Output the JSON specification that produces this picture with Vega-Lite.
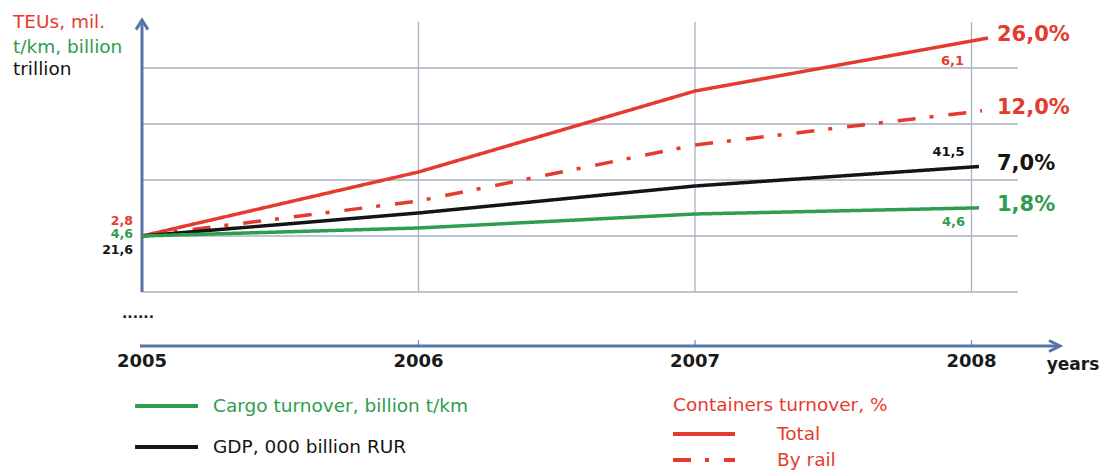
{
  "$schema": "https://vega.github.io/schema/vega-lite/v6.json",
  "width": 1104,
  "height": 471,
  "autosize": {"type": "none"},
  "padding": 0,
  "background": "#ffffff",
  "config": {
    "view": {"stroke": null},
    "axis": {"disable": true},
    "legend": {"disable": true},
    "text": {"font": "DejaVu Sans"}
  },
  "datasets": {
    "series": [
      {"series": "Total", "year": 2005, "level": 0, "value": "2,8"},
      {"series": "Total", "year": 2006, "level": 1.143},
      {"series": "Total", "year": 2007, "level": 2.589},
      {"series": "Total", "year": 2008, "level": 3.482, "value": "6,1"},
      {"series": "Total", "year": 2008.06, "level": 3.536, "rate": "26,0%"},
      {"series": "By rail", "year": 2005, "level": 0},
      {"series": "By rail", "year": 2006, "level": 0.625},
      {"series": "By rail", "year": 2007, "level": 1.625},
      {"series": "By rail", "year": 2008, "level": 2.214},
      {"series": "By rail", "year": 2008.038, "level": 2.236, "rate": "12,0%"},
      {"series": "GDP", "year": 2005, "level": 0, "value": "21,6"},
      {"series": "GDP", "year": 2006, "level": 0.411},
      {"series": "GDP", "year": 2007, "level": 0.893},
      {"series": "GDP", "year": 2008, "level": 1.232, "value": "41,5"},
      {"series": "GDP", "year": 2008.027, "level": 1.241, "rate": "7,0%"},
      {"series": "Cargo", "year": 2005, "level": 0, "value": "4,6"},
      {"series": "Cargo", "year": 2006, "level": 0.143},
      {"series": "Cargo", "year": 2007, "level": 0.393},
      {"series": "Cargo", "year": 2008, "level": 0.5, "value": "4,6"},
      {"series": "Cargo", "year": 2008.027, "level": 0.503, "rate": "1,8%"}
    ],
    "years": [{"year": 2005}, {"year": 2006}, {"year": 2007}, {"year": 2008}],
    "levels": [{"level": 3}, {"level": 2}, {"level": 1}, {"level": 0}, {"level": -1}]
  },
  "layer": [
    {
      "data": {"name": "levels"},
      "mark": {"type": "rule", "color": "#a9b2c3", "strokeWidth": 1.3},
      "encoding": {
        "y": {"field": "level", "type": "quantitative", "scale": {"domain": [-4.19643, 4.21429], "nice": false, "zero": false}},
        "x": {"datum": 2005, "type": "quantitative", "scale": {"domain": [2004.48644, 2008.4792], "nice": false, "zero": false}},
        "x2": {"datum": 2008.168}
      }
    },
    {
      "data": {"name": "years"},
      "transform": [{"filter": "datum.year > 2005"}],
      "mark": {"type": "rule", "color": "#a9b2c3", "strokeWidth": 1.3},
      "encoding": {
        "x": {"field": "year", "type": "quantitative"},
        "y": {"datum": -1, "type": "quantitative"},
        "y2": {"datum": 3.821}
      }
    },
    {
      "data": {"name": "years"},
      "transform": [{"filter": "datum.year > 2005"}],
      "mark": {"type": "rule", "color": "#8092b5", "strokeWidth": 1.3},
      "encoding": {
        "x": {"field": "year", "type": "quantitative"},
        "y": {"datum": -1.857, "type": "quantitative"},
        "y2": {"datum": -1.964}
      }
    },
    {
      "data": {"values": [{}]},
      "layer": [
        {
          "mark": {"type": "rule", "color": "#5674a8", "strokeWidth": 3},
          "encoding": {
            "x": {"datum": 2005, "type": "quantitative"},
            "y": {"datum": -1, "type": "quantitative"},
            "y2": {"datum": 3.84}
          }
        },
        {
          "mark": {"type": "rule", "color": "#5674a8", "strokeWidth": 3},
          "encoding": {
            "y": {"datum": -1.964, "type": "quantitative"},
            "x": {"datum": 2004.9928, "type": "quantitative"},
            "x2": {"datum": 2008.315}
          }
        },
        {
          "mark": {"type": "point", "shape": "M -1 1.6 L 0 0 L 1 1.6", "size": 144, "filled": false, "color": "#5674a8", "strokeWidth": 3, "opacity": 1},
          "encoding": {
            "x": {"datum": 2005, "type": "quantitative"},
            "y": {"datum": 3.857, "type": "quantitative"}
          }
        },
        {
          "mark": {"type": "point", "shape": "M -2 -1 L 0 0 L -2 1", "size": 121, "filled": false, "color": "#5674a8", "strokeWidth": 3, "opacity": 1},
          "encoding": {
            "x": {"datum": 2008.3201, "type": "quantitative"},
            "y": {"datum": -1.964, "type": "quantitative"}
          }
        }
      ]
    },
    {
      "data": {"name": "series"},
      "mark": {"type": "line", "strokeWidth": 3.5, "strokeCap": "butt"},
      "encoding": {
        "x": {"field": "year", "type": "quantitative", "scale": {"domain": [2004.48644, 2008.4792], "nice": false, "zero": false}},
        "y": {"field": "level", "type": "quantitative", "scale": {"domain": [-4.19643, 4.21429], "nice": false, "zero": false}},
        "color": {"field": "series", "type": "nominal", "scale": {"domain": ["Total", "By rail", "GDP", "Cargo"], "range": ["#e53b2f", "#e53b2f", "#151515", "#2e9d4f"]}},
        "strokeDash": {"field": "series", "type": "nominal", "scale": {"domain": ["Total", "By rail", "GDP", "Cargo"], "range": [[1, 0], [18, 14, 4, 15], [1, 0], [1, 0]]}}
      }
    },
    {
      "data": {"name": "series"},
      "transform": [{"filter": "isValid(datum.rate)"}],
      "mark": {"type": "text", "fontWeight": "bold", "fontSize": 21, "align": "left", "baseline": "middle", "dy": -3},
      "encoding": {
        "x": {"datum": 2008.0922, "type": "quantitative"},
        "y": {"field": "level", "type": "quantitative"},
        "text": {"field": "rate"},
        "color": {"field": "series", "type": "nominal"}
      }
    },
    {
      "data": {"name": "series"},
      "transform": [{"filter": "datum.year == 2005 && datum.series == 'Total'"}],
      "mark": {"type": "text", "fontWeight": "bold", "fontSize": 12.5, "align": "right", "baseline": "middle", "dx": -9, "dy": -15},
      "encoding": {
        "x": {"field": "year", "type": "quantitative"},
        "y": {"field": "level", "type": "quantitative"},
        "text": {"field": "value"},
        "color": {"field": "series", "type": "nominal"}
      }
    },
    {
      "data": {"name": "series"},
      "transform": [{"filter": "datum.year == 2005 && datum.series == 'Cargo'"}],
      "mark": {"type": "text", "fontWeight": "bold", "fontSize": 12.5, "align": "right", "baseline": "middle", "dx": -9, "dy": -2},
      "encoding": {
        "x": {"field": "year", "type": "quantitative"},
        "y": {"field": "level", "type": "quantitative"},
        "text": {"field": "value"},
        "color": {"field": "series", "type": "nominal"}
      }
    },
    {
      "data": {"name": "series"},
      "transform": [{"filter": "datum.year == 2005 && datum.series == 'GDP'"}],
      "mark": {"type": "text", "fontWeight": "bold", "fontSize": 12.5, "align": "right", "baseline": "middle", "dx": -9, "dy": 14},
      "encoding": {
        "x": {"field": "year", "type": "quantitative"},
        "y": {"field": "level", "type": "quantitative"},
        "text": {"field": "value"},
        "color": {"field": "series", "type": "nominal"}
      }
    },
    {
      "data": {"name": "series"},
      "transform": [{"filter": "datum.year == 2008 && datum.series == 'Total'"}],
      "mark": {"type": "text", "fontWeight": "bold", "fontSize": 13, "align": "center", "baseline": "middle", "dx": -19, "dy": 20},
      "encoding": {
        "x": {"field": "year", "type": "quantitative"},
        "y": {"field": "level", "type": "quantitative"},
        "text": {"field": "value"},
        "color": {"field": "series", "type": "nominal"}
      }
    },
    {
      "data": {"name": "series"},
      "transform": [{"filter": "datum.year == 2008 && datum.series == 'GDP'"}],
      "mark": {"type": "text", "fontWeight": "bold", "fontSize": 13, "align": "center", "baseline": "middle", "dx": -23, "dy": -15},
      "encoding": {
        "x": {"field": "year", "type": "quantitative"},
        "y": {"field": "level", "type": "quantitative"},
        "text": {"field": "value"},
        "color": {"field": "series", "type": "nominal"}
      }
    },
    {
      "data": {"name": "series"},
      "transform": [{"filter": "datum.year == 2008 && datum.series == 'Cargo'"}],
      "mark": {"type": "text", "fontWeight": "bold", "fontSize": 13, "align": "center", "baseline": "middle", "dx": -18, "dy": 14},
      "encoding": {
        "x": {"field": "year", "type": "quantitative"},
        "y": {"field": "level", "type": "quantitative"},
        "text": {"field": "value"},
        "color": {"field": "series", "type": "nominal"}
      }
    },
    {
      "data": {"name": "years"},
      "layer": [
        {
          "mark": {"type": "text", "fontWeight": "bold", "fontSize": 18, "align": "center", "baseline": "middle", "color": "#1a1a1a"},
          "encoding": {
            "x": {"field": "year", "type": "quantitative"},
            "y": {"datum": -2.25, "type": "quantitative"},
            "text": {"field": "year", "type": "nominal"}
          }
        }
      ]
    },
    {
      "data": {"values": [{}]},
      "layer": [
        {
          "mark": {"type": "text", "text": "years", "fontWeight": "bold", "fontSize": 17, "align": "center", "baseline": "middle", "color": "#1a1a1a"},
          "encoding": {
            "x": {"datum": 2008.367, "type": "quantitative"},
            "y": {"datum": -2.304, "type": "quantitative"}
          }
        },
        {
          "mark": {"type": "text", "text": "......", "fontWeight": "bold", "fontSize": 14, "align": "center", "baseline": "alphabetic", "color": "#1a1a1a"},
          "encoding": {
            "x": {"datum": 2004.9855, "type": "quantitative"},
            "y": {"datum": -1.464, "type": "quantitative"}
          }
        },
        {
          "mark": {"type": "text", "text": "TEUs, mil.", "fontSize": 18.5, "align": "left", "baseline": "middle"},
          "encoding": {
            "x": {"datum": 2004.5335, "type": "quantitative"},
            "y": {"datum": 3.83, "type": "quantitative"},
            "color": {"datum": "Total"}
          }
        },
        {
          "mark": {"type": "text", "text": "t/km, billion", "fontSize": 18.5, "align": "left", "baseline": "middle"},
          "encoding": {
            "x": {"datum": 2004.5335, "type": "quantitative"},
            "y": {"datum": 3.375, "type": "quantitative"},
            "color": {"datum": "Cargo"}
          }
        },
        {
          "mark": {"type": "text", "text": "trillion", "fontSize": 18.5, "align": "left", "baseline": "middle"},
          "encoding": {
            "x": {"datum": 2004.5335, "type": "quantitative"},
            "y": {"datum": 2.982, "type": "quantitative"},
            "color": {"datum": "GDP"}
          }
        }
      ]
    },
    {
      "data": {"values": [{"series": "Cargo", "label": "Cargo turnover, billion t/km"}]},
      "layer": [
        {
          "mark": {"type": "rule", "strokeWidth": 4},
          "encoding": {
            "x": {"datum": 2004.975, "type": "quantitative"},
            "x2": {"datum": 2005.2025},
            "y": {"datum": -3.036, "type": "quantitative"},
            "color": {"field": "series", "type": "nominal"},
            "strokeDash": {"field": "series", "type": "nominal"}
          }
        },
        {
          "mark": {"type": "text", "fontSize": 18.5, "align": "left", "baseline": "middle"},
          "encoding": {
            "x": {"datum": 2005.2568, "type": "quantitative"},
            "y": {"datum": -3.036, "type": "quantitative"},
            "text": {"field": "label"},
            "color": {"field": "series", "type": "nominal"}
          }
        }
      ]
    },
    {
      "data": {"values": [{"series": "GDP", "label": "GDP, 000 billion RUR"}]},
      "layer": [
        {
          "mark": {"type": "rule", "strokeWidth": 4},
          "encoding": {
            "x": {"datum": 2004.975, "type": "quantitative"},
            "x2": {"datum": 2005.2025},
            "y": {"datum": -3.768, "type": "quantitative"},
            "color": {"field": "series", "type": "nominal"},
            "strokeDash": {"field": "series", "type": "nominal"}
          }
        },
        {
          "mark": {"type": "text", "fontSize": 18.5, "align": "left", "baseline": "middle"},
          "encoding": {
            "x": {"datum": 2005.2568, "type": "quantitative"},
            "y": {"datum": -3.768, "type": "quantitative"},
            "text": {"field": "label"},
            "color": {"field": "series", "type": "nominal"}
          }
        }
      ]
    },
    {
      "data": {"values": [{"series": "Total", "label": "Containers turnover, %"}]},
      "mark": {"type": "text", "fontSize": 18.5, "align": "left", "baseline": "middle"},
      "encoding": {
        "x": {"datum": 2006.9204, "type": "quantitative"},
        "y": {"datum": -3.018, "type": "quantitative"},
        "text": {"field": "label"},
        "color": {"field": "series", "type": "nominal"}
      }
    },
    {
      "data": {"values": [{"series": "Total", "label": "Total"}]},
      "layer": [
        {
          "mark": {"type": "rule", "strokeWidth": 4},
          "encoding": {
            "x": {"datum": 2006.9204, "type": "quantitative"},
            "x2": {"datum": 2007.1447},
            "y": {"datum": -3.536, "type": "quantitative"},
            "color": {"field": "series", "type": "nominal"},
            "strokeDash": {"field": "series", "type": "nominal"}
          }
        },
        {
          "mark": {"type": "text", "fontSize": 18.5, "align": "left", "baseline": "middle"},
          "encoding": {
            "x": {"datum": 2007.2966, "type": "quantitative"},
            "y": {"datum": -3.536, "type": "quantitative"},
            "text": {"field": "label"},
            "color": {"field": "series", "type": "nominal"}
          }
        }
      ]
    },
    {
      "data": {"values": [{"series": "By rail", "label": "By rail"}]},
      "layer": [
        {
          "mark": {"type": "rule", "strokeWidth": 4},
          "encoding": {
            "x": {"datum": 2006.9204, "type": "quantitative"},
            "x2": {"datum": 2007.1447},
            "y": {"datum": -4.0, "type": "quantitative"},
            "color": {"field": "series", "type": "nominal"},
            "strokeDash": {"field": "series", "type": "nominal"}
          }
        },
        {
          "mark": {"type": "text", "fontSize": 18.5, "align": "left", "baseline": "middle"},
          "encoding": {
            "x": {"datum": 2007.2966, "type": "quantitative"},
            "y": {"datum": -4.0, "type": "quantitative"},
            "text": {"field": "label"},
            "color": {"field": "series", "type": "nominal"}
          }
        }
      ]
    }
  ]
}
